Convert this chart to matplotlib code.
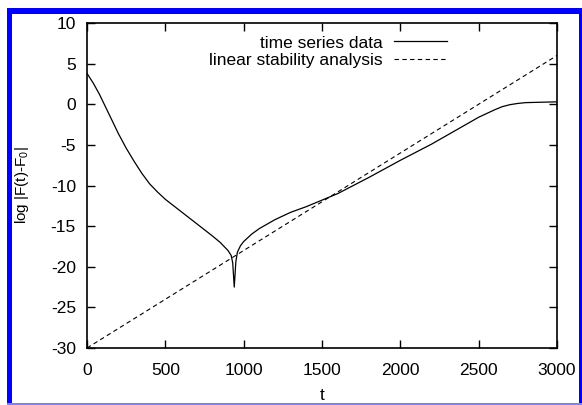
import numpy as np
import matplotlib.pyplot as plt
from matplotlib.patches import Rectangle

plt.rcParams['font.family'] = ['Liberation Sans', 'DejaVu Sans']
plt.rcParams['mathtext.fontset'] = 'custom'
plt.rcParams['mathtext.rm'] = 'Liberation Sans'
plt.rcParams['axes.unicode_minus'] = False

# time series data
t_data = [0, 40, 80, 120, 160, 200, 250, 300, 350, 400, 450, 500, 600, 700, 800,
          850, 900, 920, 930, 940, 950, 960, 980, 1000, 1050, 1100, 1200, 1300,
          1400, 1500, 1600, 1800, 2000, 2200, 2400, 2500, 2600, 2650, 2700,
          2750, 2800, 2900, 3000]
F_data = [3.8, 2.6, 1.2, -0.4, -2.0, -3.6, -5.4, -7.0, -8.5, -9.8, -10.8, -11.7,
          -13.2, -14.7, -16.2, -17.0, -18.0, -18.6, -19.5, -22.5, -19.4, -18.2,
          -17.4, -16.9, -16.0, -15.3, -14.2, -13.3, -12.6, -11.8, -11.0, -9.0,
          -6.9, -4.9, -2.7, -1.6, -0.7, -0.3, -0.05, 0.1, 0.2, 0.25, 0.3]

# linear stability analysis
t_lin = [0, 3000]
F_lin = [-30, 6]

fig = plt.figure(figsize=(5.82, 4.05), dpi=100)
ax = fig.add_axes([0.1495, 0.1407, 0.8075, 0.8025])

ax.plot(t_data, F_data, color='black', lw=0.9, label='time series data')
ax.plot(t_lin, F_lin, color='black', lw=0.8, ls=(0, (4, 3)),
        label='linear stability analysis')

ax.set_xlim(0, 3000)
ax.set_ylim(-30, 10)
ax.set_xticks(np.arange(0, 3001, 500))
ax.set_yticks(np.arange(-30, 11, 5))
ax.tick_params(direction='in', top=True, right=True, length=6, width=1,
               labelsize=12.5, pad=8)
ax.tick_params(axis='x', pad=11)
for s in ax.spines.values():
    s.set_linewidth(1.2)

ax.set_xlabel('t', fontsize=12.5, labelpad=7)
ax.set_ylabel(r'log |F(t)-F$_\mathregular{0}$|', fontsize=11, labelpad=14)

leg = ax.legend(loc='upper right', bbox_to_anchor=(0.80, 1.01), frameon=False,
                markerfirst=False, fontsize=12.5, handlelength=3.05,
                labelspacing=0.15, handletextpad=0.7)
for txt in leg.get_texts():
    txt.set_ha('right')

# blue frame around the picture
W, H = 582.0, 405.0
def band(x0, y0, x1, y1, color):
    fig.patches.append(Rectangle((x0 / W, 1 - y1 / H), (x1 - x0) / W, (y1 - y0) / H,
                                 transform=fig.transFigure, color=color, lw=0))
band(7, 8, 582, 14, '#0000ff')
band(7, 8, 12, 405, '#0000ff')
band(579, 8, 582, 405, '#0000ff')
band(7, 403, 582, 405, '#8080ff')

fig.savefig('out.png', dpi=100)
